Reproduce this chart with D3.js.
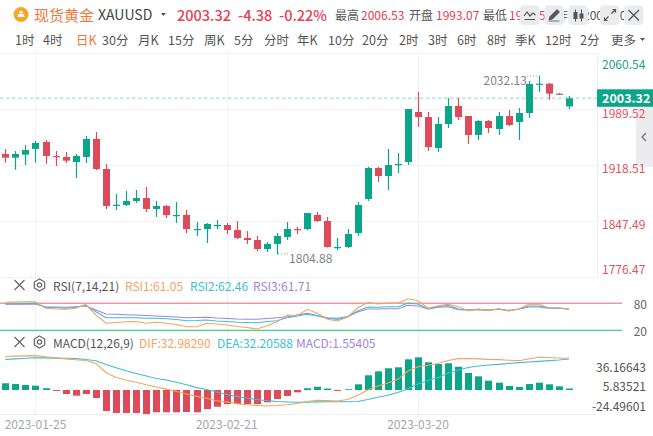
<!DOCTYPE html>
<html><head><meta charset="utf-8">
<script src="https://cdn.jsdelivr.net/npm/d3@7/dist/d3.min.js"></script>
<style>body{margin:0;background:#fff}svg{display:block;font-family:"Noto Sans CJK SC","Noto Sans",sans-serif}</style>
</head><body><svg id="c" width="653" height="436"></svg>
<script>
const dates=["2023-01-20","2023-01-23","2023-01-24","2023-01-25","2023-01-26","2023-01-27","2023-01-30","2023-01-31","2023-02-01","2023-02-02",
"2023-02-03","2023-02-06","2023-02-07","2023-02-08","2023-02-09","2023-02-10","2023-02-13","2023-02-14","2023-02-15","2023-02-16",
"2023-02-17","2023-02-20","2023-02-21","2023-02-22","2023-02-23","2023-02-24","2023-02-27","2023-02-28","2023-03-01","2023-03-02",
"2023-03-03","2023-03-06","2023-03-07","2023-03-08","2023-03-09","2023-03-10","2023-03-13","2023-03-14","2023-03-15","2023-03-16",
"2023-03-17","2023-03-20","2023-03-21","2023-03-22","2023-03-23","2023-03-24","2023-03-27","2023-03-28","2023-03-29","2023-03-30",
"2023-03-31","2023-04-03","2023-04-04","2023-04-05","2023-04-06","2023-04-07","2023-04-10"];
const open=[1932.5,1927.8,1931.6,1938.9,1947.8,1930.0,1928.7,1922.3,1928.7,1951.6,
1913.4,1866.8,1867.6,1872.7,1876.5,1862.6,1866.4,1854.0,1854.9,1836.2,
1837.1,1841.3,1842.2,1835.8,1825.7,1823.1,1811.7,1818.1,1827.0,1837.1,
1837.1,1854.9,1847.3,1813.0,1814.2,1832.0,1875.3,1914.7,1904.5,1918.5,
1922.3,1985.9,1979.5,1940.1,1970.6,1993.5,1980.8,1956.7,1974.5,1964.3,
1980.8,1973.2,1984.6,2020.6,2021.9,2009.2,1993.07];
const high=[1938.9,1936.3,1943.9,1949.0,1950.3,1936.3,1935.0,1932.5,1955.4,1960.5,
1919.8,1881.6,1885.4,1886.7,1890.5,1872.7,1867.6,1871.5,1861.3,1846.0,
1844.8,1848.6,1844.8,1847.3,1834.6,1828.2,1820.6,1832.0,1846.0,1839.7,
1857.5,1858.7,1852.4,1825.7,1837.1,1871.5,1916.3,1916.3,1938.9,1933.8,
1989.7,2011.3,1985.9,1979.5,2003.7,2003.7,1980.8,1975.7,1975.7,1985.9,
1988.4,1991.0,2025.3,2032.13,2022.8,2010.0,2006.53];
const low=[1921.4,1912.5,1918.5,1921.4,1919.8,1917.2,1921.0,1902.0,1921.0,1912.1,
1862.6,1861.3,1866.4,1870.2,1858.7,1852.4,1851.1,1844.8,1832.0,1828.2,
1819.3,1837.1,1830.8,1824.4,1818.1,1809.2,1807.9,1804.88,1823.1,1830.8,
1835.8,1846.0,1813.6,1810.4,1813.0,1828.2,1872.7,1896.9,1886.7,1908.3,
1918.5,1966.8,1936.3,1935.0,1965.6,1975.7,1945.2,1950.3,1959.2,1956.7,
1968.1,1950.3,1978.3,2011.3,2001.5,2007.5,1989.7];
const close=[1927.8,1932.5,1937.6,1946.5,1930.0,1929.1,1924.0,1930.0,1951.6,1913.4,
1866.4,1868.0,1872.7,1876.5,1862.6,1866.4,1854.9,1854.9,1837.1,1837.1,
1843.5,1842.2,1835.8,1825.7,1823.1,1811.7,1818.1,1828.2,1837.1,1835.8,
1857.5,1847.3,1814.2,1814.2,1830.8,1867.6,1914.7,1904.5,1918.5,1919.8,
1989.7,1979.5,1941.4,1970.6,1993.5,1979.5,1956.7,1974.5,1965.6,1980.8,
1969.4,1984.6,2021.5,2021.9,2009.2,2007.70,2003.32];
const rsi1=[82.4,82.9,83.3,83.6,68.9,67.3,66.7,68.9,77.8,54.0,
35.6,37.3,38.9,39.6,35.6,37.8,35.6,32.9,28.0,28.0,
35.6,34.0,31.8,28.4,26.2,22.9,30.2,39.1,54.0,52.4,
66.7,57.8,44.4,40.7,49.6,69.6,81.8,78.4,80.7,80.7,
90.2,85.8,68.9,74.7,77.8,72.4,63.6,67.3,63.6,68.0,
62.9,67.3,77.8,77.8,70.2,69.6,67.3];
const rsi2=[78.4,78.9,79.6,80.0,71.1,70.0,68.9,71.1,75.6,61.3,
48.0,48.0,48.0,48.0,46.7,46.7,45.6,44.0,41.3,41.8,
42.9,40.7,39.6,37.8,37.3,36.9,39.6,41.3,48.0,51.8,
55.6,51.8,46.7,44.4,49.6,62.9,71.8,71.1,72.4,72.4,
80.0,78.4,67.3,72.4,75.6,67.3,65.1,66.7,65.1,67.3,
64.4,67.3,74.0,74.0,69.6,69.6,67.3];
const rsi3=[77.8,78.0,78.2,78.4,72.4,71.8,71.1,72.4,74.0,65.1,
56.2,55.6,54.7,54.0,52.9,51.8,50.7,49.6,48.0,48.4,
48.9,47.3,46.2,45.1,44.7,44.4,46.2,48.0,50.2,54.0,
57.8,52.9,48.0,46.7,50.7,60.7,67.3,67.3,68.0,68.0,
75.6,74.0,67.3,71.1,72.4,65.8,65.1,65.1,64.4,66.7,
63.6,66.7,71.8,71.8,68.9,68.9,66.7];
const dif=[34.8,35.2,35.5,35.7,34.5,33.5,32.4,31.4,30.7,27.6,
18.2,13.0,10.4,8.0,5.4,3.1,0.9,-1.5,-4.2,-6.6,
-8.6,-11.1,-12.5,-14.2,-15.4,-16.1,-16.6,-16.1,-15.3,-14.1,
-12.0,-10.7,-11.1,-11.4,-9.9,-5.7,0.0,4.2,7.3,11.1,
19.8,24.2,25.7,27.5,30.7,32.6,32.8,32.4,31.8,31.6,
31.0,30.5,32.2,34.0,33.8,33.3,32.98];
const dea=[31.9,32.4,33.0,33.5,33.4,33.2,33.0,32.6,31.7,30.4,
26.5,23.2,20.0,17.2,14.6,12.0,10.4,8.0,5.4,2.5,
0.5,-2.1,-4.7,-6.6,-8.3,-9.9,-11.1,-12.0,-12.5,-12.8,
-12.7,-12.3,-12.2,-12.2,-12.2,-12.0,-9.9,-7.5,-5.5,-2.6,
1.2,6.2,9.9,13.0,17.7,20.8,23.4,25.0,26.0,26.7,
27.6,28.5,29.1,29.8,30.5,31.2,32.21];
const macd=[7.0,6.2,5.2,4.5,1.8,-1.0,-4.2,-5.9,-4.2,-8.3,
-21.8,-23.9,-23.9,-23.9,-25.0,-23.2,-23.2,-23.2,-22.9,-23.2,
-19.8,-17.4,-14.6,-14.6,-14.6,-14.6,-12.8,-9.4,-6.2,-2.4,
1.8,3.4,1.5,-1.0,0.8,5.9,15.3,19.4,22.6,23.6,
31.9,34.0,28.8,27.0,27.8,24.2,17.7,14.2,9.7,7.6,
4.2,3.1,6.2,7.6,5.9,3.8,1.55];
const priceTicks=[2060.54,1989.52,1918.51,1847.49,1776.47];
const rsiTicks=[80,20];
const macdTicks=[36.16643,5.83521,-24.49601];
const xTicks=["2023-01-25","2023-02-21","2023-03-20"];
const lastPrice=2003.32;
const periodTabs=["1时","4时","日K","30分","月K","15分","周K","5分","分时","年K","10分","20分","2时","3时","6时","8时","季K","12时","2分","更多"];

const GREEN="#0ba689",RED="#dd4b5a",OR="#f7a35c",CY="#3bbfd6",PU="#9d85e6",GRID="#f1f2f5";
const svg=d3.select("#c");
const x=d3.scaleLinear().domain([0,dates.length-1]).range([5.3,569]);
const y=d3.scaleLinear().domain([1776.47,2060.54]).range([276.7,53.3]);
const yr=d3.scaleLinear().domain([20,80]).range([330.3,303.3]);
const ym=d3.scaleLinear().domain([-26,36.4]).range([415,355]);
const ymLab=d3.scaleLinear().domain([-24.49601,36.16643]).range([405.7,366]);
const PR=597;

// grid
const g=svg.append("g");
g.selectAll(".hg").data(priceTicks).join("line").attr("x1",0).attr("x2",PR).attr("y1",d=>Math.round(y(d))+0.5).attr("y2",d=>Math.round(y(d))+0.5).attr("stroke",GRID);
g.selectAll(".vg").data(xTicks).join("line").attr("x1",d=>Math.round(x(dates.indexOf(d)))+0.5).attr("x2",d=>Math.round(x(dates.indexOf(d)))+0.5).attr("y1",53).attr("y2",414).attr("stroke",GRID);
g.append("line").attr("x1",0).attr("x2",PR).attr("y1",414.5).attr("y2",414.5).attr("stroke","#eceef2");
g.append("line").attr("x1",PR+0.5).attr("x2",PR+0.5).attr("y1",53).attr("y2",277).attr("stroke","#eceef2");

// last price dashed line
svg.append("line").attr("x1",0).attr("x2",PR).attr("y1",y(lastPrice)).attr("y2",y(lastPrice)).attr("stroke","#bdeadb").attr("stroke-width",2).attr("stroke-dasharray","3.5,2.5");

// candles
const idx=d3.range(dates.length);
const cg=svg.append("g");
cg.selectAll(".w").data(idx).join("line").attr("x1",i=>Math.round(x(i))+0.5).attr("x2",i=>Math.round(x(i))+0.5)
 .attr("y1",i=>y(high[i])).attr("y2",i=>y(low[i])).attr("stroke",i=>close[i]>=open[i]?GREEN:RED).attr("stroke-width",1.2);
cg.selectAll(".b").data(idx).join("rect").attr("x",i=>Math.round(x(i))-3).attr("width",7)
 .attr("y",i=>y(Math.max(open[i],close[i]))).attr("height",i=>Math.max(1.2,Math.abs(y(open[i])-y(close[i]))))
 .attr("fill",i=>close[i]>=open[i]?GREEN:RED);

// high / low markers
const hi=d3.maxIndex(high),lo=d3.minIndex(low);
svg.append("line").attr("x1",x(hi)-12).attr("x2",x(hi)-1).attr("y1",y(high[hi])+0.5).attr("y2",y(high[hi])+0.5).attr("stroke","#8a8d98").attr("stroke-dasharray","1,2");
svg.append("text").attr("x",x(hi)-12).attr("y",y(high[hi])+3.5).attr("text-anchor","end").attr("dominant-baseline","central").attr("font-size",12).attr("fill","#80838f").text(high[hi].toFixed(2));
svg.append("line").attr("x1",x(lo)+1).attr("x2",x(lo)+11).attr("y1",y(low[lo])-0.5).attr("y2",y(low[lo])-0.5).attr("stroke","#8a8d98").attr("stroke-dasharray","1,2");
svg.append("text").attr("x",x(lo)+12).attr("y",y(low[lo])+3).attr("dominant-baseline","central").attr("font-size",12).attr("fill","#80838f").text(low[lo].toFixed(2));

// collapse tab (behind labels)
svg.append("rect").attr("x",636).attr("y",107).attr("width",17).attr("height",60).attr("fill","#ececef");
svg.append("path").attr("d","M646,133 L642,137 L646,141").attr("fill","none").attr("stroke","#777").attr("stroke-width",1.3);
// price labels
svg.selectAll(".pl").data(priceTicks).join("text").attr("x",602).attr("y",d=>Math.max(63,Math.min(268,y(d)+3)))
 .attr("dominant-baseline","central").attr("font-size",12).attr("fill",d=>d>lastPrice?"#16a386":"#e0525f").text(d=>d.toFixed(2));
// last price badge
svg.append("rect").attr("x",597).attr("y",y(lastPrice)-9).attr("width",56).attr("height",17.5).attr("fill",GREEN);
svg.append("text").attr("x",602).attr("y",y(lastPrice)-0.5).attr("dominant-baseline","central").attr("font-size",12.5).attr("font-weight",700).attr("fill","#fff").text(lastPrice.toFixed(2));

// RSI panel
svg.append("line").attr("x1",0).attr("x2",622).attr("y1",yr(80)).attr("y2",yr(80)).attr("stroke","#f09aa2").attr("stroke-width",1.6);
svg.append("line").attr("x1",0).attr("x2",622).attr("y1",yr(20)).attr("y2",yr(20)).attr("stroke","#45cf8e").attr("stroke-width",1.2);
svg.selectAll(".rl").data(rsiTicks).join("text").attr("x",647).attr("y",d=>yr(d)).attr("text-anchor","end").attr("dominant-baseline","central").attr("font-size",12).attr("fill","#666").text(d=>d);
const lr=d3.line().x((d,i)=>x(i)).y(d=>yr(d));
[[rsi3,PU],[rsi2,CY],[rsi1,OR]].forEach(([s,c])=>svg.append("path").attr("d",lr(s)).attr("fill","none").attr("stroke",c).attr("stroke-width",1.1));

// MACD panel
svg.selectAll(".mb").data(idx).join("rect").attr("x",i=>Math.round(x(i))-3).attr("width",7)
 .attr("y",i=>ym(Math.max(0,macd[i]))).attr("height",i=>Math.abs(ym(macd[i])-ym(0)))
 .attr("fill",i=>macd[i]>=0?GREEN:RED);
const lm=d3.line().x((d,i)=>x(i)).y(d=>ym(d));
svg.append("path").attr("d",lm(dea)).attr("fill","none").attr("stroke",CY).attr("stroke-width",1.1);
svg.append("path").attr("d",lm(dif)).attr("fill","none").attr("stroke",OR).attr("stroke-width",1.1);
svg.selectAll(".ml").data(macdTicks).join("text").attr("x",646).attr("y",d=>ymLab(d)).attr("text-anchor","end").attr("dominant-baseline","central").attr("font-size",12).attr("fill","#555").text(d=>d.toFixed(5));

// x labels
svg.selectAll(".xl").data(xTicks).join("text").attr("x",d=>x(dates.indexOf(d))).attr("y",423.5).attr("text-anchor","middle").attr("dominant-baseline","central").attr("font-size",12).attr("fill","#a3a6ae").text(d=>d);

// indicator headers
function closeGear(cy){
  svg.append("path").attr("d",`M14.5,${cy-5} L24.5,${cy+5} M24.5,${cy-5} L14.5,${cy+5}`).attr("stroke","#666").attr("stroke-width",1.2);
  const pts=d3.range(6).map(k=>{const a=Math.PI/3*k+Math.PI/6;return [39.5+6*Math.cos(a),cy+6*Math.sin(a)];});
  svg.append("polygon").attr("points",pts.map(p=>p.join(",")).join(" ")).attr("fill","none").attr("stroke","#666").attr("stroke-width",1.2);
  svg.append("circle").attr("cx",39.5).attr("cy",cy).attr("r",2.2).attr("fill","none").attr("stroke","#666").attr("stroke-width",1.2);
}
closeGear(285);closeGear(342);
function hdr(cy,items){const t=svg.append("text").attr("y",cy).attr("dominant-baseline","central").attr("font-size",12);
  items.forEach(([s,c,xx])=>t.append("tspan").attr("x",xx).attr("fill",c).text(s));}
hdr(285,[["RSI(7,14,21)","#555",53],["RSI1:61.05",OR,125],["RSI2:62.46",CY,190],["RSI3:61.71",PU,253]]);
hdr(342,[["MACD(12,26,9)","#555",53],["DIF:32.98290",OR,139],["DEA:32.20588",CY,217],["MACD:1.55405",PU,296]]);

// title row
svg.append("circle").attr("cx",21).attr("cy",14.5).attr("r",7.5).attr("fill","#f4a72c");
svg.append("path").attr("d","M17.5,17 L24.5,17 L23.5,14 L18.5,14 Z M19,13.2 L23,13.2 L22.3,11 L19.7,11 Z").attr("fill","#fff");
const t1=svg.append("text").attr("y",14).attr("dominant-baseline","central");
t1.append("tspan").attr("x",34).attr("font-size",15).attr("fill","#f0773a").text("现货黄金");
t1.append("tspan").attr("x",98).attr("font-size",14).attr("fill","#444").text("XAUUSD");
svg.append("path").attr("d","M161,13 L166,13 L163.5,16 Z").attr("fill","#555");
const t2=svg.append("text").attr("y",14).attr("dominant-baseline","central").attr("font-size",14.5).attr("font-weight",500).attr("fill","#e5404f");
t2.append("tspan").attr("x",177).text("2003.32");
t2.append("tspan").attr("x",238).text("-4.38");
t2.append("tspan").attr("x",279).text("-0.22%");
const t3=svg.append("text").attr("y",14).attr("dominant-baseline","central").attr("font-size",12);
[["最高","#555",335],["2006.53","#e5404f",361],["开盘","#555",409],["1993.07","#e5404f",436],["最低","#555",483],["1989.51","#e5404f",509],["昨收","#555",556],["2007.70","#555",583]]
 .forEach(([s,c,xx])=>t3.append("tspan").attr("x",xx).attr("fill",c).text(s));
// tool icons
const boxes=[520,544.5,568.5,600,624];
svg.selectAll(".ib").data(boxes).join("rect").attr("x",d=>d).attr("y",5.5).attr("width",19.5).attr("height",19.5).attr("rx",4).attr("fill","#e9ebef");
const ic="#555";
svg.append("path").attr("d","M524,16 L527,12 L530,16 L533,13 L535.5,15 M524.5,19.5 L535,19.5").attr("fill","none").attr("stroke",ic).attr("stroke-width",1.2);
svg.append("path").attr("d","M549,20 L550,16.5 L557,9.5 L559.5,12 L552.5,19 Z M548.5,21 L559.5,21").attr("fill",ic).attr("stroke",ic).attr("stroke-width",0.8);
svg.append("path").attr("d","M575.5,9.5 L575.5,21.5 M581.5,9.5 L581.5,21.5").attr("stroke",ic).attr("stroke-width",1);
svg.append("rect").attr("x",573.5).attr("y",12).attr("width",4).attr("height",7).attr("fill",ic);
svg.append("rect").attr("x",579.5).attr("y",13.5).attr("width",4).attr("height",5).attr("fill",ic);
svg.append("path").attr("d","M604.5,20.5 L608.5,16.5 M604.5,17.5 L604.5,20.5 L607.5,20.5 M615.5,9.5 L611.5,13.5 M612.5,9.5 L615.5,9.5 L615.5,12.5").attr("fill","none").attr("stroke",ic).attr("stroke-width",1.2);
svg.append("path").attr("d","M628.5,10 L639,20.5 M639,10 L628.5,20.5").attr("stroke",ic).attr("stroke-width",1.3);

// period tabs
const tabX=[15,43,76,102,138,168,204,234,264,297,328,362,399,428,457,487,515,545,580,611];
const tr=svg.append("text").attr("y",38.5).attr("dominant-baseline","central").attr("font-size",12.5);
periodTabs.forEach((s,i)=>tr.append("tspan").attr("x",tabX[i]).attr("fill",s==="日K"?"#f0773a":"#555").text(s));
svg.append("path").attr("d","M640,38 L645,38 L642.5,41 Z").attr("fill","#555");
</script></body></html>
